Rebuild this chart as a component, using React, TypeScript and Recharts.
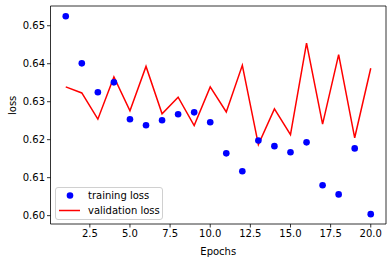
import { ComposedChart, Line, XAxis, YAxis, Legend, ReferenceLine } from "recharts";

const epochs = [1, 2, 3, 4, 5, 6, 7, 8, 9, 10, 11, 12, 13, 14, 15, 16, 17, 18, 19, 20];
const trainingLoss = [
  0.6525, 0.6401, 0.6325, 0.6351, 0.6254, 0.6238, 0.6251, 0.6267, 0.6272, 0.6246,
  0.6164, 0.6117, 0.6198, 0.6183, 0.6167, 0.6193, 0.608, 0.6056, 0.6177, 0.6004,
];
const validationLoss = [
  0.6339, 0.6323, 0.6254, 0.6365, 0.6276, 0.6393, 0.6268, 0.6312, 0.6237, 0.6339,
  0.6273, 0.6396, 0.6187, 0.6281, 0.6213, 0.6454, 0.6241, 0.6424, 0.6205, 0.6388,
];
const xTicks = [2.5, 5, 7.5, 10, 12.5, 15, 17.5, 20];
const yTicks = [0.6, 0.61, 0.62, 0.63, 0.64, 0.65];
const xDomain = [0.05, 20.95];
const yDomain = [0.5978, 0.6552];

const data = epochs.map((epoch, i) => ({
  epoch,
  train: trainingLoss[i],
  val: validationLoss[i],
}));

const font = "'DejaVu Sans', sans-serif";
const tickStyle = { fill: "#000", fontSize: 10, fontFamily: font };

function LossLegend() {
  return (
    <div
      style={{
        width: 106,
        height: 31,
        border: "1px solid #d0d0d0",
        borderRadius: 3,
        background: "rgba(255,255,255,0.8)",
        fontFamily: font,
        fontSize: 10,
        color: "#000",
        position: "relative",
      }}
    >
      <svg width={30} height={31} style={{ position: "absolute", left: 0, top: 0 }}>
        <circle cx={14} cy={7.5} r={3.3} fill="#0000ff" />
        <line x1={3} x2={24} y1={22.5} y2={22.5} stroke="#ff0000" strokeWidth={1.5} />
      </svg>
      <div style={{ position: "absolute", left: 32, top: 1, lineHeight: "13px", whiteSpace: "nowrap" }}>training loss</div>
      <div style={{ position: "absolute", left: 32, top: 16, lineHeight: "13px", whiteSpace: "nowrap" }}>validation loss</div>
    </div>
  );
}

export default function App() {
  return (
    <div style={{ position: "fixed", left: 0, top: 0, width: 392, height: 262, background: "#fff" }}>
      <ComposedChart
        width={392}
        height={262}
        data={data}
        margin={{ top: 6, right: 6, left: 0, bottom: 0 }}
      >
        <XAxis
          dataKey="epoch"
          type="number"
          domain={xDomain}
          ticks={xTicks}
          tickFormatter={(v: number) => v.toFixed(1)}
          tick={tickStyle}
          tickSize={3.5}
          tickMargin={2}
          tickLine={{ stroke: "#000", strokeWidth: 0.8 }}
          axisLine={{ stroke: "#000", strokeWidth: 0.8 }}
          height={38}
          allowDataOverflow
          label={{ value: "Epochs", position: "insideBottom", offset: 7, fill: "#000", fontSize: 10, fontFamily: font }}
        />
        <YAxis
          type="number"
          domain={yDomain}
          ticks={yTicks}
          tickFormatter={(v: number) => v.toFixed(2)}
          tick={tickStyle}
          tickSize={3.5}
          tickMargin={2}
          tickLine={{ stroke: "#000", strokeWidth: 0.8 }}
          axisLine={{ stroke: "#000", strokeWidth: 0.8 }}
          width={50.5}
          allowDataOverflow
          label={{ value: "loss", angle: -90, position: "insideLeft", offset: 12, fill: "#000", fontSize: 10, fontFamily: font }}
        />
        <ReferenceLine y={yDomain[1]} stroke="#000" strokeWidth={0.8} />
        <ReferenceLine x={xDomain[1]} stroke="#000" strokeWidth={0.8} />
        <Legend
          layout="horizontal"
          verticalAlign="middle"
          align="center"
          wrapperStyle={{ left: 55, top: 187, width: 108 }}
          content={() => <LossLegend />}
        />
        <Line
          dataKey="train"
          name="training loss"
          stroke="none"
          strokeWidth={0}
          dot={{ r: 3.3, fill: "#0000ff", stroke: "none" }}
          activeDot={false}
          isAnimationActive={false}
        />
        <Line
          dataKey="val"
          name="validation loss"
          stroke="#ff0000"
          strokeWidth={1.5}
          dot={false}
          activeDot={false}
          type="linear"
          isAnimationActive={false}
        />
      </ComposedChart>
    </div>
  );
}
